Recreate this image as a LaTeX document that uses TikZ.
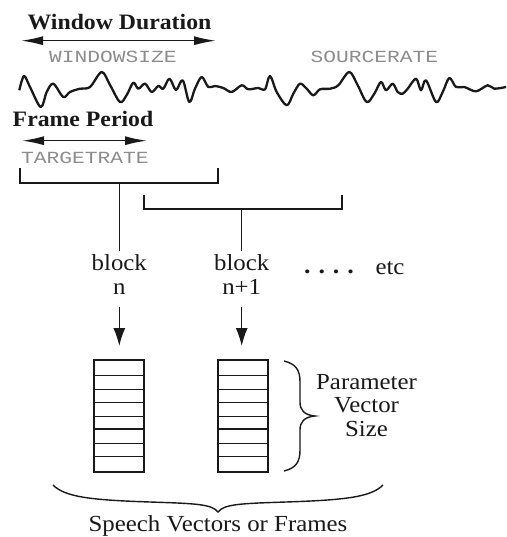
\documentclass[tikz,border=0pt]{standalone}
\usepackage{fontspec}
\setmainfont{Liberation Serif}[FakeStretch=1.08]
\newfontfamily\monof{Liberation Mono}[FakeStretch=1.25]
\usetikzlibrary{arrows.meta}
\definecolor{graytxt}{RGB}{140,140,140}
\definecolor{ink}{RGB}{25,25,25}
\begin{document}
\begin{tikzpicture}[x=1pt,y=-1pt,
  lbl/.style={font=\fontsize{22}{23.3}\selectfont\bfseries, text=ink, inner sep=0pt, anchor=base},
  txt/.style={font=\fontsize{23}{23.3}\selectfont, text=ink, inner sep=0pt, align=center, anchor=base},
  mono/.style={font=\monof\fontsize{17}{17}\selectfont, text=graytxt, inner sep=0pt, anchor=base},
  dbl/.style={{Latex[length=22pt,width=9pt]}-{Latex[length=22pt,width=9pt]}, line width=1.6pt, draw=ink},
  brk/.style={line width=2.4pt, draw=ink},
  stem/.style={line width=1.4pt, draw=ink},
  down/.style={-{Latex[length=18pt,width=12pt]}, line width=1.4pt, draw=ink},
  vecbox/.style={draw=ink, line width=1.3pt, minimum width=50pt, minimum height=112pt, inner sep=0pt, outer sep=0pt},
  row/.style={line width=1pt, draw=ink},
  rowthick/.style={line width=2pt, draw=ink},
  brace/.style={line width=1.4pt, draw=ink},
  wave/.style={line width=2.3pt, draw=ink, smooth, tension=0.55, line join=round}
]
\useasboundingbox (0,0) rectangle (506,537);

% labels
\node[lbl] (wd) at (119.5,30) {Window Duration};
\coordinate (wdl) at (21,40.7);
\coordinate (wdr) at (216,40.7);
\draw[dbl] (wdl) -- (wdr);
\node[mono] (ws) at (113,62.7) {WINDOWSIZE};
\node[mono] (sr) at (374.5,62.7) {SOURCERATE};

% waveform
\draw[wave] plot coordinates {(19.3,90.3) (24,76) (30,87) (40.7,107) (46.7,92) (53.3,83.7) (63.3,97) (70,92) (80,88.7) (90,87) (101.7,72) (110,85) (120,102) (126.7,95) (133.3,82.7) (138.3,88.7) (145,83.7) (151.7,92) (158.3,86) (163.3,88.7) (169.5,78.7) (176,90) (182.7,80.3) (189.3,102) (195,88.7) (201.7,77) (208.3,87) (215,86) (223.3,88) (231.7,92) (241.7,85.3) (248.3,89.3) (258.3,88) (265,89.3) (270,76) (276.7,92) (286.7,105.3) (293.3,93.7) (300,83.7) (306.7,88.7) (313.3,95.3) (320,89.3) (330,88.7) (338.3,85.3) (349.3,72) (357.7,85.3) (366.7,102) (374.3,93.7) (381,82) (386,90.3) (392.7,83.7) (397.7,92) (402.7,93.7) (407.7,88.7) (416,78.7) (421,90.3) (426,80.3) (436,102) (442.7,92) (449.3,78) (456,87) (464.3,87) (476,91.3) (487.7,85.3) (494.3,88.7) (506,87)};

\node[lbl] (fp) at (83,126.7) {Frame Period};
\coordinate (fpl) at (22,140.7);
\coordinate (fpr) at (147,140.7);
\draw[dbl] (fpl) -- (fpr);
\node[mono] (tr) at (85,163.3) {TARGETRATE};

% brackets
\coordinate (b1m) at (119.3,183);
\coordinate (b2m) at (241.7,209);
\draw[brk] (20,168) -- (20,183) -- (218,183) -- (218,168);
\draw[brk] (144,195) -- (144,209) -- (341.7,209) -- (341.7,195);

% block labels (base anchor = last line)
\node[txt] (bn) at (119.3,294) {block\\n};
\node[txt] (bn1) at (241.7,294) {block\\n+1};
\node[txt, font=\fontsize{24}{24}\selectfont\bfseries] (dots) at (329,273) {.\,\,.\,\,.\,\,.};
\node[txt] (etc) at (390,274) {etc};

\draw[stem, shorten >=4pt] (b1m) -- (bn.north);
\draw[stem, shorten >=4pt] (b2m) -- (bn1.north);

% vector boxes
\node[vecbox] (box1) at (119,416) {};
\node[vecbox] (box2) at (243,416) {};
\foreach \y in {375,389.3,402.7,416,443.3,456.7}{
  \draw[row] (box1.west |- 0,\y) -- (box1.east |- 0,\y);
  \draw[row] (box2.west |- 0,\y) -- (box2.east |- 0,\y);
}
\draw[rowthick] (box1.west |- 0,429.3) -- (box1.east |- 0,429.3);
\draw[rowthick] (box2.west |- 0,429.3) -- (box2.east |- 0,429.3);

% down arrows
\coordinate (a1) at (119.3,306.7);
\coordinate (a2) at (241.7,306.7);
\draw[down, shorten >=14pt] (a1) -- (a1 |- box1.north);
\draw[down, shorten >=14pt] (a2) -- (a2 |- box2.north);

% right brace
\draw[brace] (284,361) .. controls (296,364) and (300,370) .. (300,382) -- (300,402)
  .. controls (300,410) and (304,415) .. (315,416)
  .. controls (304,417) and (300,422) .. (300,430) -- (300,450)
  .. controls (300,462) and (296,468) .. (284,471);
\node[txt] (pvs) at (366.5,436) {Parameter\\Vector\\Size};

% bottom brace
\draw[brace] (53,485) .. controls (65,497) and (90,500) .. (150,502)
  .. controls (195,503.5) and (212,504) .. (218,512)
  .. controls (224,504) and (241,503.5) .. (286,502)
  .. controls (346,500) and (371,497) .. (383,485);
\node[txt] (svf) at (218,531.5) {Speech Vectors or Frames};
\end{tikzpicture}
\end{document}
